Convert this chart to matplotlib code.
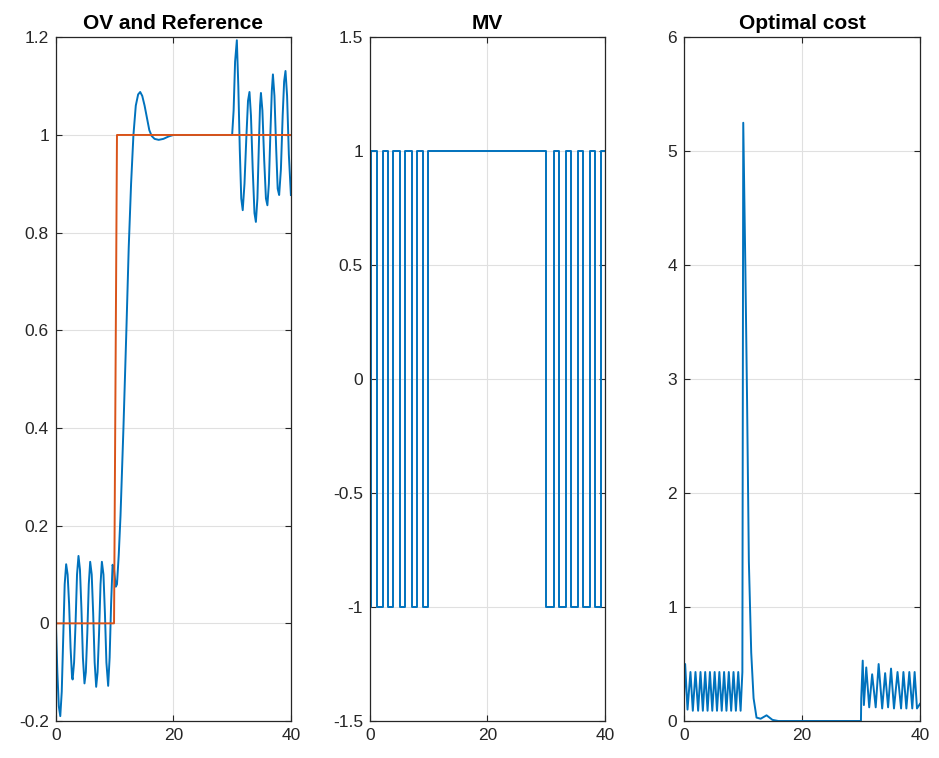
import matplotlib
matplotlib.use("Agg")
import matplotlib.pyplot as plt

plt.rcParams['font.family'] = ['Liberation Sans', 'DejaVu Sans']

# ---- data ----
# output variable (OV)
ov_t = [0, 0.25, 0.5, 0.75, 1.0, 1.25, 1.5, 1.75, 2.0, 2.25, 2.5, 2.75, 2.85, 3.1, 3.35, 3.6,
        3.85, 4.1, 4.35, 4.6, 4.87, 5.1, 5.35, 5.6, 5.84, 6.1, 6.35, 6.6, 6.86, 7.1, 7.35, 7.6,
        7.83, 8.1, 8.35, 8.6, 8.9, 9.15, 9.4, 9.65, 9.9, 10.2, 10.4, 10.7, 11.0, 11.5, 12.0,
        12.4, 12.8, 13.2, 13.6, 14.0, 14.35, 14.7, 15.1, 15.5, 15.9, 16.3, 16.8, 17.5, 18.3,
        19.2, 20, 25, 30, 30.25, 30.5, 30.8, 31.05, 31.3, 31.55, 31.8, 32.1, 32.4, 32.7, 32.95,
        33.2, 33.5, 33.8, 34.04, 34.3, 34.55, 34.75, 34.9, 35.15, 35.45, 35.75, 36.0, 36.25,
        36.5, 36.75, 36.94, 37.2, 37.5, 37.75, 38.0, 38.3, 38.6, 38.85, 39.08, 39.35, 39.65, 40]
ov_y = [0, -0.1, -0.17, -0.19, -0.14, -0.03, 0.08, 0.121, 0.10, 0.04, -0.05, -0.11, -0.115,
        -0.08, 0.0, 0.1, 0.138, 0.11, 0.03, -0.07, -0.123, -0.1, -0.02, 0.08, 0.126, 0.1, 0.02,
        -0.08, -0.13, -0.1, -0.02, 0.08, 0.126, 0.1, 0.02, -0.08, -0.128, -0.07, 0.04, 0.12,
        0.11, 0.075, 0.08, 0.14, 0.22, 0.4, 0.6, 0.77, 0.9, 1.0, 1.06, 1.083, 1.088, 1.08, 1.06,
        1.035, 1.01, 0.998, 0.992, 0.99, 0.992, 0.997, 1.0, 1.0, 1.0, 1.05, 1.15, 1.194, 1.1,
        0.97, 0.87, 0.846, 0.9, 0.99, 1.07, 1.088, 1.04, 0.93, 0.84, 0.822, 0.87, 0.98, 1.06,
        1.086, 1.05, 0.95, 0.87, 0.856, 0.9, 1.0, 1.09, 1.124, 1.08, 0.97, 0.89, 0.877, 0.93,
        1.04, 1.11, 1.131, 1.08, 0.96, 0.877]

# reference
ref_t = [0, 9.9, 10.4, 40]
ref_y = [0, 0, 1, 1]

# manipulated variable (switching instants and levels)
mv_t = [0, 0.15, 1.15, 2.15, 3.1, 4.0, 5.1, 6.0, 7.1, 7.95, 9.1, 9.95,
        29.95, 31.3, 32.25, 33.4, 34.25, 35.4, 36.25, 37.4, 38.25, 39.4, 40]
mv_v = [-1, 1, -1, 1, -1, 1, -1, 1, -1, 1, -1, 1,
        -1, 1, -1, 1, -1, 1, -1, 1, -1, 1, 1]

# optimal cost
cost_t = [0, 0.2, 0.6, 1.1, 1.5, 1.95, 2.4, 2.8, 3.2, 3.6, 4.0, 4.4, 4.8, 5.2, 5.6, 6.0, 6.4,
          6.8, 7.2, 7.6, 8.0, 8.4, 8.8, 9.2, 9.6, 9.9, 10.05, 10.4, 10.7, 11.0, 11.4, 11.8,
          12.3, 13.0, 14.0, 15.0, 16.0, 30.0, 30.05, 30.3, 30.5, 30.9, 31.4, 31.9, 32.5, 33.0,
          33.6, 34.1, 34.6, 35.1, 35.6, 36.2, 36.8, 37.2, 37.7, 38.2, 38.7, 39.1, 39.5, 40]
cost_y = [0.2, 0.5, 0.1, 0.43, 0.09, 0.43, 0.09, 0.43, 0.09, 0.43, 0.09, 0.43, 0.09, 0.43,
          0.09, 0.43, 0.09, 0.43, 0.09, 0.43, 0.09, 0.43, 0.09, 0.43, 0.09, 0.43, 5.25, 4.0,
          2.8, 1.4, 0.6, 0.2, 0.03, 0.02, 0.05, 0.01, 0.0, 0.0, 0.2, 0.53, 0.14, 0.47, 0.12,
          0.41, 0.12, 0.5, 0.11, 0.42, 0.12, 0.46, 0.11, 0.43, 0.11, 0.43, 0.11, 0.43, 0.11,
          0.43, 0.11, 0.15]

blue = '#0072BD'
orange = '#D95319'
dark = '#262626'

fig = plt.figure(figsize=(9.39, 7.58), dpi=100)
ax1 = fig.add_axes([0.0595, 0.0488, 0.2503, 0.902])
ax2 = fig.add_axes([0.394, 0.0488, 0.2503, 0.902])
ax3 = fig.add_axes([0.7284, 0.0488, 0.2513, 0.902])

ax1.plot(ov_t, ov_y, color=blue, lw=1.4)
ax1.plot(ref_t, ref_y, color=orange, lw=1.4)
ax1.set_ylim(-0.2, 1.2)
ax1.set_yticks([-0.2, 0, 0.2, 0.4, 0.6, 0.8, 1, 1.2])
ax1.set_yticklabels(['-0.2', '0', '0.2', '0.4', '0.6', '0.8', '1', '1.2'])
ax1.set_title("OV and Reference")

ax2.step(mv_t, mv_v, where='post', color=blue, lw=1.4)
ax2.set_ylim(-1.5, 1.5)
ax2.set_yticks([-1.5, -1, -0.5, 0, 0.5, 1, 1.5])
ax2.set_yticklabels(['-1.5', '-1', '-0.5', '0', '0.5', '1', '1.5'])
ax2.set_title("MV")

ax3.plot(cost_t, cost_y, color=blue, lw=1.4)
ax3.set_ylim(0, 6)
ax3.set_yticks([0, 1, 2, 3, 4, 5, 6])
ax3.set_title("Optimal cost")

for ax in (ax1, ax2, ax3):
    ax.set_xlim(0, 40)
    ax.set_xticks([0, 20, 40])
    ax.grid(True, color='#e0e0e0', lw=0.8)
    ax.set_axisbelow(True)
    ax.tick_params(direction='in', top=True, right=True, length=4, width=0.8,
                   colors=dark, labelsize=12.5, pad=5)
    for s in ax.spines.values():
        s.set_color(dark)
        s.set_linewidth(0.9)
    ax.title.set_fontsize(15)
    ax.title.set_fontweight('bold')
    ax.title.set_color('#000000')

fig.savefig("out.png", dpi=100)
